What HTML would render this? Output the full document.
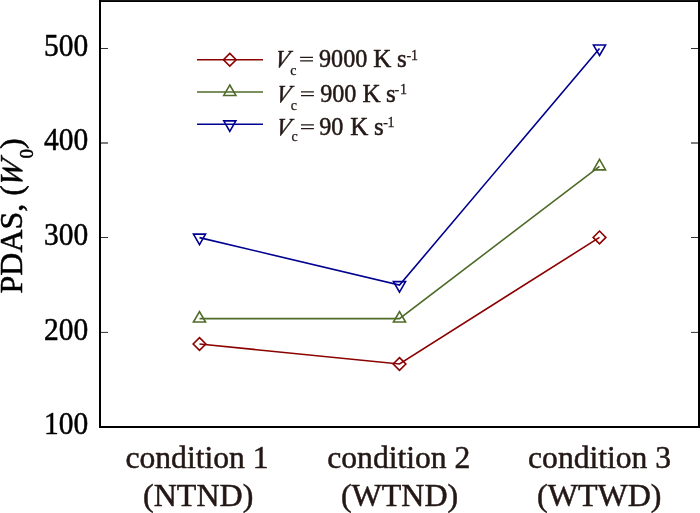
<!DOCTYPE html>
<html><head><meta charset="utf-8">
<style>
html,body{margin:0;padding:0;background:#fff;width:700px;height:513px;overflow:hidden}
svg{display:block;will-change:transform}
text{font-family:"Liberation Serif",serif}
</style></head><body>
<svg width="700" height="513" viewBox="0 0 700 513">
<rect width="700" height="513" fill="#fff"/>
<g stroke="#000" stroke-width="0.8" fill="none">
<path d="M101 48.5H108M101 237.5H108M101 332.4H108M698 48.5H691M698 237.5H691M698 332.4H691"/>
<path d="M101 143H108M698 143H691" stroke-width="1.1"/>
</g>
<path d="M100 0V427H699V0" fill="none" stroke="#000" stroke-width="2" stroke-linejoin="miter"/>
<rect x="101" y="0" width="597" height="1" fill="#151515"/><rect x="101" y="1" width="597" height="1" fill="#000"/>
<g font-size="30.5" fill="#000" stroke="#000" stroke-width="0.5" text-anchor="end">
<text transform="translate(88.2,55.80) scale(0.967,1.02)">500</text>
<text transform="translate(88.2,150.40) scale(0.967,1.02)">400</text>
<text transform="translate(88.2,245.00) scale(0.967,1.02)">300</text>
<text transform="translate(88.2,339.60) scale(0.967,1.02)">200</text>
<text transform="translate(88.2,434.20) scale(0.967,1.02)">100</text>
</g>
<g transform="translate(22,293.5) rotate(-90)" font-size="32" fill="#000" stroke="#000" stroke-width="0.5"><text>PDAS, (</text><text transform="translate(105.47,0) skewX(-11)" font-style="italic">W</text><text x="135.13" y="10.5" font-size="19">0</text><text x="144.63" y="0">)</text></g>
<g fill="#231815" stroke="#231815" stroke-width="0.5" text-anchor="middle">
<text x="197.0" y="468" font-size="31.6">condition 1</text>
<text x="398.8" y="468" font-size="31.6">condition 2</text>
<text x="599.6" y="468" font-size="31.6">condition 3</text>
<text x="198.2" y="506" font-size="32">(NTND)</text>
<text x="399.6" y="506" font-size="32">(WTND)</text>
<text x="599.3" y="506" font-size="32">(WTWD)</text>
</g>
<defs>
<path id="dia" d="M0,-6.35L6.35,0L0,6.35L-6.35,0Z"/>
<path id="tup" d="M0,-7L6.05,3.45L-6.05,3.45Z"/>
<path id="tdn" d="M0,7L6.05,-3.45L-6.05,-3.45Z"/>
</defs>
<g fill="none" stroke-width="1.6">
<polyline stroke="#8b0000" points="199.5,344 399.5,364 599.5,237.4"/>
<polyline stroke="#4f6b28" points="199.5,318.6 399.5,318.6 599.5,166.4"/>
<polyline stroke="#000090" points="199.5,237.6 399.5,285.1 599.5,48.5"/>
<g stroke="#8b0000">
<use href="#dia" x="199.5" y="344"/><use href="#dia" x="399.5" y="364"/><use href="#dia" x="599.5" y="237.4"/>
</g>
<g stroke="#4f6b28">
<use href="#tup" x="199.5" y="318.6"/><use href="#tup" x="399.5" y="318.6"/><use href="#tup" x="599.5" y="166.4"/>
</g>
<g stroke="#000090">
<use href="#tdn" x="199.5" y="237.6"/><use href="#tdn" x="399.5" y="285.1"/><use href="#tdn" x="599.5" y="48.5"/>
</g>
<path stroke="#8b0000" d="M197 59.7H263"/>
<use href="#dia" x="229.8" y="59.7" stroke="#8b0000"/>
<path stroke="#4f6b28" d="M197 92H263"/>
<use href="#tup" x="229.8" y="92" stroke="#4f6b28"/>
<path stroke="#000090" d="M197 124.3H263"/>
<use href="#tdn" x="229.8" y="124.3" stroke="#000090"/>
</g>
<g fill="#231815" stroke="#231815" stroke-width="0.5" font-size="25">
<text transform="translate(273.20,67.20) skewX(-14) scale(0.94,1.02)" font-size="24" font-style="italic">V</text><text x="290.30" y="75.10" font-size="14" stroke-width="0.25">c</text><text transform="translate(319.05,67.40) scale(0.965,1)">9000</text><text x="373.35" y="67.40">K</text><text x="396.90" y="67.40">s</text><text x="406.50" y="59.50" font-size="14" stroke-width="0.3">-</text><text x="410.95" y="59.50" font-size="14" stroke-width="0.3">1</text>
<text transform="translate(274.50,101.60) skewX(-14) scale(0.94,1.02)" font-size="24" font-style="italic">V</text><text x="290.70" y="110.10" font-size="14" stroke-width="0.25">c</text><text transform="translate(320.15,101.80) scale(0.965,1)">900</text><text x="362.55" y="101.80">K</text><text x="385.90" y="101.80">s</text><text x="394.60" y="93.80" font-size="14" stroke-width="0.3">-</text><text x="400.05" y="93.80" font-size="14" stroke-width="0.3">1</text>
<text transform="translate(274.50,134.50) skewX(-14) scale(0.94,1.02)" font-size="24" font-style="italic">V</text><text x="291.60" y="141.00" font-size="14" stroke-width="0.25">c</text><text transform="translate(319.25,134.70) scale(0.965,1)">90</text><text x="350.25" y="134.70">K</text><text x="374.00" y="134.70">s</text><text x="383.20" y="127.00" font-size="14" stroke-width="0.3">-</text><text x="387.45" y="127.00" font-size="14" stroke-width="0.3">1</text>
</g>
<path d="M300.10 57.35H313.00M300.10 60.90H313.00M301.00 91.90H313.90M301.00 95.60H313.90M301.00 124.85H313.90M301.00 128.60H313.90" stroke="#231815" stroke-width="1.25" fill="none"/>
</svg>
</body></html>
